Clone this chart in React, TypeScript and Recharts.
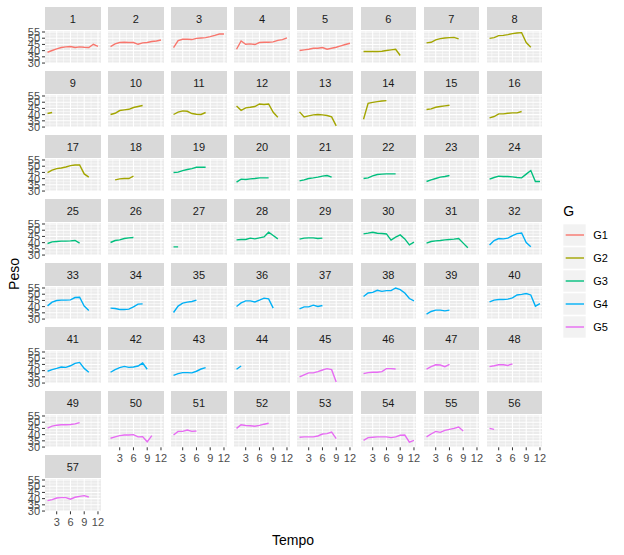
import { LineChart, Line, XAxis, YAxis, ReferenceLine } from "recharts";

const tempo = [1, 2, 3, 4, 5, 6, 7, 8, 9, 10, 11, 12];
const groups = ["G1", "G2", "G3", "G4", "G5"];
const groupColors = ["#F8766D", "#A3A500", "#00BF7D", "#00B0F6", "#E76BF3"];

// peso por animal (ids 1..57), em ordem de tempo
const pesoG1 = [
  [38.7, 40.1, 41.4, 42.5, 43, 43.3, 42.5, 43, 42.7, 42.5, 45.1, 43.5],
  [43.3, 45.4, 46.5, 46.7, 46.5, 46.5, 45.1, 46.2, 46.5, 47.3, 47.8, 48.6],
  [42.5, 48.1, 49.1, 49.1, 48.9, 49.9, 50.2, 50.5, 51.3, 52.3, 53.4, 53.4],
  [41.1, 47.8, 45.1, 45.4, 44.9, 46.5, 46.7, 46.7, 47, 48.3, 48.9, 50.2],
  [40.1, 40.6, 41.1, 41.9, 41.9, 42.5, 41.1, 41.9, 42.7, 43.8, 44.9, 45.9],
];
const pesoG2 = [
  [39.3, 39.3, 39.3, 39.3, 39.5, 40.1, 40.6, 41.1, 36.1],
  [46.2, 46.7, 48.6, 49.7, 50.2, 50.5, 50.7, 49.4],
  [49.9, 50.5, 52.1, 52.3, 52.9, 53.7, 54.2, 54.5, 46.5, 42.7],
  [40.9, 41.7],
  [40.1, 41.1, 43.3, 43.8, 44.3, 45.7, 46.5, 47.3],
  [40.1, 42, 43, 42.7, 40.9, 40.3, 40.1, 41.7],
  [47, 43.5, 45.4, 45.9, 46.5, 48.6, 48.1, 48.6, 41.9, 37.9],
  [42.2, 38.2, 39, 39.8, 40.1, 39.8, 39.3, 38.2, 31],
  [36.3, 49.1, 49.9, 50.5, 51, 51.3],
  [44.1, 44.6, 45.9, 46.5, 47, 47.5],
  [37.4, 38.5, 40.6, 40.6, 41.1, 41.4, 41.4, 42.5],
  [44.9, 46.8, 48.1, 48.6, 49.4, 50.5, 51, 51, 43.8, 41.2],
  [null, 39, 39.8, 40.1, 40.1, 42],
];
const pesoG3 = [
  [44.9, 45.2, 46.5, 47.3, 48.1, 49.1, 49.1, 49.1],
  [37.2, 39.6, 39.3, 39.8, 40.1, 40.6, 40.6, 40.6],
  [38.2, 39, 40.1, 40.6, 41.2, 42, 42.5, 41.2],
  [40.1, 40.6, 42.2, 43.3, 43.6, 43.8, 43.8, 43.8],
  [37.7, 39, 40.1, 41.2, 41.7, 42.5],
  [39.6, 40.9, 42, 41.7, 41.7, 41.4, 40.9, 40.6, 43.6, 46.5, 37.7, 37.7],
  [39.3, 40.6, 40.9, 41.2, 41.2, 41.4, 41.7, 39.6],
  [40.1, 41.7, 42.2, 43.3, 43.8, 44.1],
  [36.6, 36.6],
  [42.2, 42.5, 42.5, 43.6, 43, 43.8, 44.6, 48.4, 45.7, 43],
  [42.8, 43.6, 43.8, 43.8, 43.3, 43.6],
  [47, 47.6, 48.4, 47.6, 47.3, 47, 42, 44.4, 46.2, 43, 38.2, 40.4],
  [39.6, 40.9, 41.4, 41.7, 42.2, 42.5, 42.8, 43.3, 39.6, 35.9],
];
const pesoG4 = [
  [38, 41.7, 43.3, 43, 43.6, 45.7, 47.3, 47.8, 40.1, 36.6],
  [40.6, 43.6, 44.9, 45.2, 45.2, 45.4, 47.3, 47.6, 40.4, 36.9],
  [38.8, 38.5, 37.7, 37.7, 38, 39.8, 42, 42.2],
  [35.3, 40.4, 42.8, 43.6, 44.1, 45.2],
  [40.1, 43, 44.6, 44.6, 43.8, 45.2, 46.8, 46.2, 38.8],
  [38.2, 39.8, 39.8, 41.2, 40.1, 40.9],
  [48.1, 51, 51.5, 53.1, 52.3, 52.9, 52.9, 55, 53.7, 51, 46.5, 44.6],
  [34, 36.1, 37.2, 37.2, 36.6, 37.2],
  [43.8, 45.2, 45.7, 45.7, 46, 47, 49.4, 49.9, 50.5, 49.4, 40.4, 42.5],
  [39.5, 40.8, 41.8, 42.9, 42.6, 43.9, 45.8, 46.6, 41.8, 38.7],
  [38.7, 40.8, 42.4, 43.4, 42.6, 42.9, 43.7, 46.1, 41.1],
  [36.1, 37.6, 38.4, 38.4, 38.2, 39.5, 41.3, 42.4],
  [41.1, 43.7],
];
const pesoG5 = [
  [35, 36.6, 38.2, 38.2, 39.2, 40.5, 41.6, 40.8, 30.8],
  [37.6, 38.4, 38.7, 38.7, 39.2, 41.6, 41.6, 41.3],
  [41.3, 43.2, 44.7, 44.5, 43.2, 45],
  [43.2, 43.9, 44.7, 44.7, 44.2, 45.5],
  [45.3, 46.8, 47.6, 47.9, 47.9, 48.2, 48.7, 49.7],
  [37.1, 38.2, 39.2, 39.7, 39.7, 40, 38.2, 38.4, 34.2, 39.2],
  [39.7, 42.6, 42.6, 43.7, 42.6, 42.9],
  [45, 47.9, 47.4, 47.1, 46.8, 47.4, 48.4, 49.2],
  [37.9, 38.2, 38.2, 38.2, 38.9, 40.5, 40.8, 42.1, 36.8],
  [35.3, 37.6, 37.9, 38.2, 38.2, 38.2, 37.6, 38.2, 39.5, 39.7, 33.9, 35.3],
  [38.2, 40.5, 42.6, 41.8, 43.4, 44.2, 45, 46.1, 42.9],
  [45, 44.2],
  [38.4, 39.2, 40.5, 40.8, 40.8, 39.5, 41.1, 41.8, 42.4, 41.3],
];

const xTicks = [3, 6, 9, 12];
const xMinor = [1.5, 4.5, 7.5, 10.5];
const yTicks = [30, 35, 40, 45, 50, 55];
const yMinor = [32.5, 37.5, 42.5, 47.5, 52.5];

const FONT = '"Liberation Sans", Arial, Helvetica, sans-serif';
const NCOL = 8;
const PW = 55.5;
const PH = 32.3;
const YAXW = 45;
const XAXH = 25;

const panels = [pesoG1, pesoG2, pesoG3, pesoG4, pesoG5].flatMap((list, gi) =>
  list.map((s) => ({ g: gi, s }))
);

function Panel({ idx, g, s }: { idx: number; g: number; s: (number | null)[] }) {
  const c = idx % NCOL;
  const r = Math.floor(idx / NCOL);
  const left = 45 + c * 63.1;
  const stripTop = 7.3 + r * 64;
  const top = stripTop + 23.7;
  const showY = c === 0;
  const showX = idx + NCOL >= panels.length;
  const data = tempo.slice(0, s.length).map((t, i) => ({ t, v: s[i] }));
  const tickStyle = { fontSize: 11, fill: "#4D4D4D", fontFamily: FONT };

  return (
    <>
      <div
        style={{
          position: "absolute", left, top: stripTop, width: PW, height: 22.7,
          background: "#D9D9D9", color: "#1A1A1A", fontSize: 11, fontFamily: FONT,
          display: "flex", alignItems: "center", justifyContent: "center",
        }}
      >
        {idx + 1}
      </div>
      <div style={{ position: "absolute", left, top, width: PW, height: PH, background: "#EBEBEB" }} />
      <div style={{ position: "absolute", left: left - (showY ? YAXW : 0), top }}>
        <LineChart
          width={PW + (showY ? YAXW : 0)}
          height={PH + (showX ? XAXH : 0)}
          data={data}
          margin={{ top: 0, right: 0, bottom: 0, left: 0 }}
        >
          <XAxis
            dataKey="t" type="number" domain={[0.45, 12.55]} ticks={xTicks}
            allowDataOverflow hide={!showX} height={XAXH} axisLine={false}
            tickSize={3} tickMargin={4} tick={tickStyle} tickLine={{ stroke: "#333333" }}
            interval={0}
          />
          <YAxis
            type="number" domain={[29.8, 55.8]} ticks={yTicks}
            allowDataOverflow hide={!showY} width={YAXW} axisLine={false}
            tickSize={3} tickMargin={2} tick={tickStyle} tickLine={{ stroke: "#333333" }}
            interval={0}
          />
          {yMinor.map((v) => (
            <ReferenceLine key={"ym" + v} y={v} stroke="#FFFFFF" strokeWidth={0.55} />
          ))}
          {xMinor.map((v) => (
            <ReferenceLine key={"xm" + v} x={v} stroke="#FFFFFF" strokeWidth={0.55} />
          ))}
          {yTicks.map((v) => (
            <ReferenceLine key={"y" + v} y={v} stroke="#FFFFFF" strokeWidth={1.07} />
          ))}
          {xTicks.map((v) => (
            <ReferenceLine key={"x" + v} x={v} stroke="#FFFFFF" strokeWidth={1.07} />
          ))}
          <Line
            dataKey="v" stroke={groupColors[g]} strokeWidth={1.4} dot={false}
            isAnimationActive={false} connectNulls={false}
          />
        </LineChart>
      </div>
    </>
  );
}

function Legend() {
  return (
    <svg style={{ position: "absolute", left: 555, top: 195 }} width={69} height={150}>
      <text x={8.3} y={15.7} dominantBaseline="central" fontSize={14} fontFamily={FONT} fill="#000">
        G
      </text>
      {groups.map((g, i) => {
        const y = 29.3 + i * 23;
        return (
          <g key={g}>
            <rect x={8.3} y={y} width={22.4} height={21.4} fill="#F2F2F2" />
            <line x1={10.7} x2={29} y1={y + 10.7} y2={y + 10.7} stroke={groupColors[i]} strokeWidth={1.4} />
            <text x={38.3} y={y + 11} dominantBaseline="central" fontSize={11} fontFamily={FONT} fill="#000">
              {g}
            </text>
          </g>
        );
      })}
    </svg>
  );
}

export default function App() {
  return (
    <div
      style={{
        position: "absolute", left: 0, top: 0, width: 624, height: 555,
        background: "#FFFFFF", fontFamily: FONT, overflow: "hidden",
      }}
    >
      <style>{".recharts-surface{overflow:visible}"}</style>
      {panels.map((p, i) => (
        <Panel key={i} idx={i} g={p.g} s={p.s} />
      ))}
      <div
        style={{
          position: "absolute", left: 14, top: 274, transform: "translate(-50%, -50%) rotate(-90deg)",
          fontSize: 14, color: "#000", whiteSpace: "nowrap",
        }}
      >
        Peso
      </div>
      <div
        style={{
          position: "absolute", left: 293, top: 540, transform: "translate(-50%, -50%)",
          fontSize: 14, color: "#000", whiteSpace: "nowrap",
        }}
      >
        Tempo
      </div>
      <Legend />
    </div>
  );
}
